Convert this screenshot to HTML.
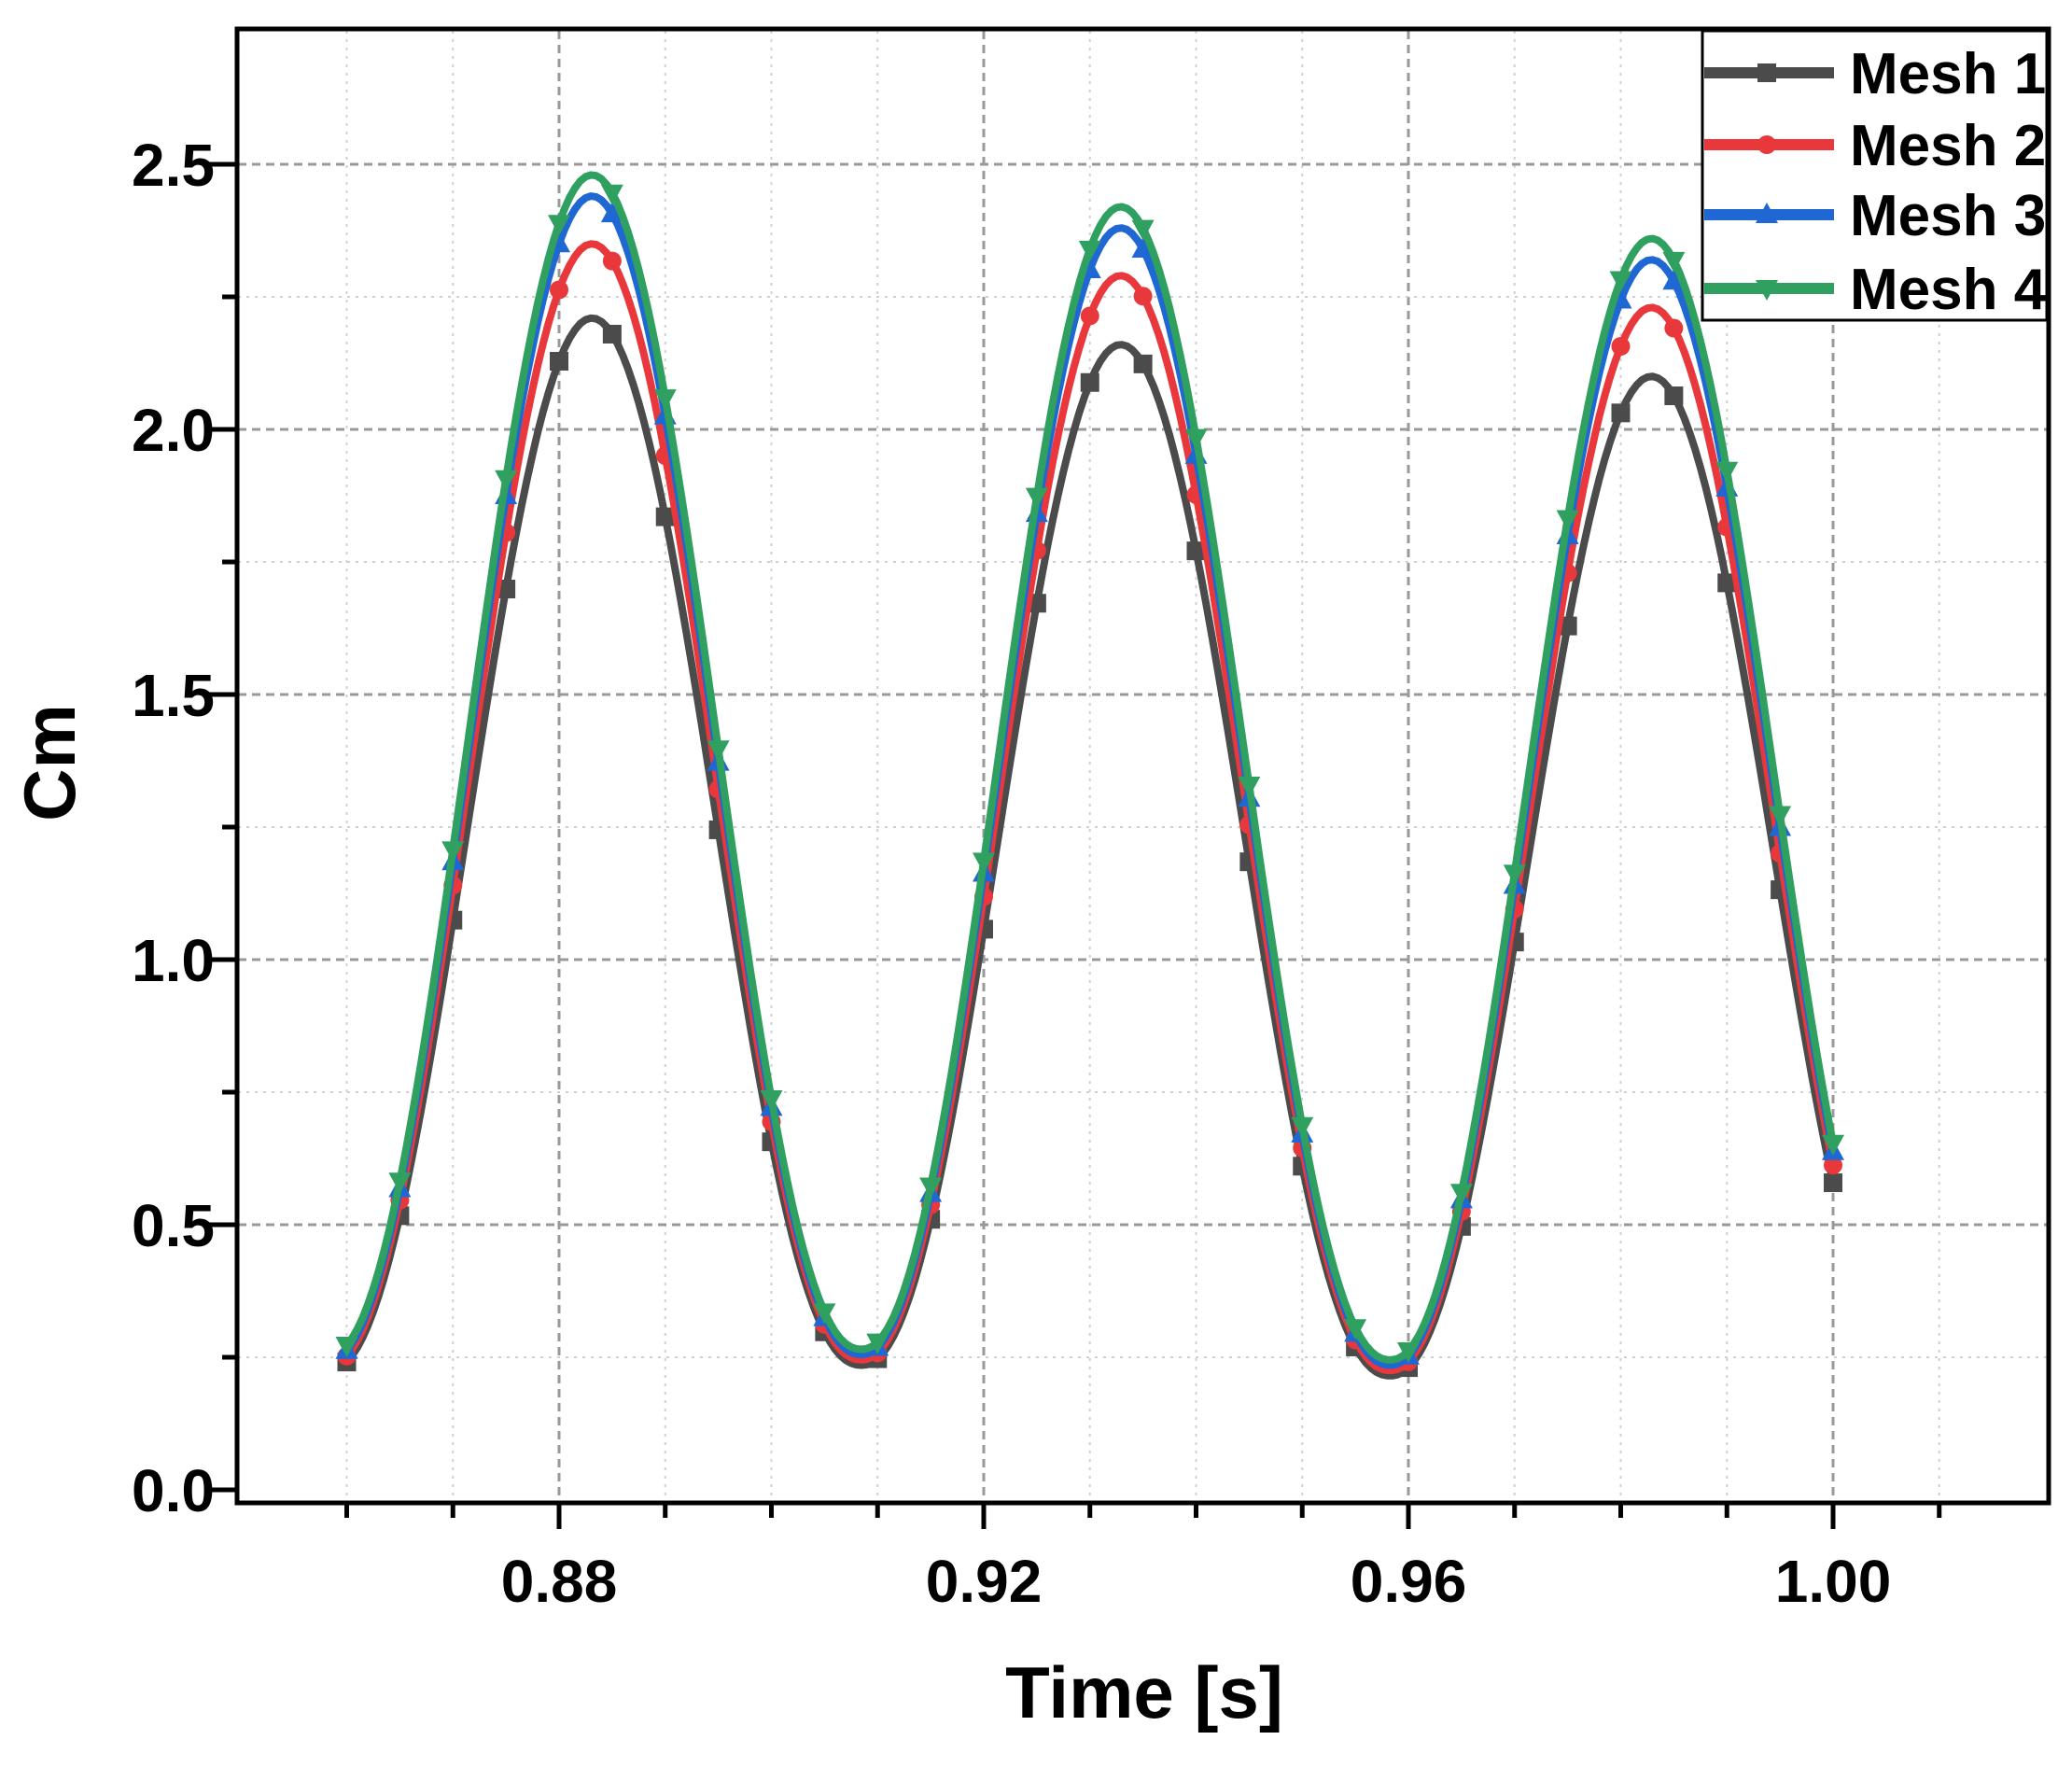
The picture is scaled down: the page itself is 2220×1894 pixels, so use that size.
<!DOCTYPE html>
<html><head><meta charset="utf-8"><style>
html,body{margin:0;padding:0;background:#fff;}
svg{display:block;}
text{font-family:"Liberation Sans",Arial,sans-serif;font-weight:bold;fill:#000;}
</style></head><body>
<svg id="s" width="2220" height="1894" viewBox="0 0 2220 1894" xmlns="http://www.w3.org/2000/svg">
<rect width="2220" height="1894" fill="#fff"/>
<g id="grid"></g>
<g id="series"></g>
<g id="axes"></g>
<g font-size="64" text-anchor="end">
<text x="230" y="1619">0.0</text>
<text x="230" y="1335">0.5</text>
<text x="230" y="1051">1.0</text>
<text x="230" y="767">1.5</text>
<text x="230" y="483">2.0</text>
<text x="230" y="199">2.5</text>
</g>
<g font-size="64" text-anchor="middle">
<text x="599" y="1716">0.88</text>
<text x="1054" y="1716">0.92</text>
<text x="1509" y="1716">0.96</text>
<text x="1964" y="1716">1.00</text>
</g>
<text x="1226" y="1840" font-size="78" text-anchor="middle">Time [s]</text>
<text transform="translate(80,817) rotate(-90)" font-size="78" text-anchor="middle">Cm</text>
<g id="legend"></g>
</svg>
<script>
var NS="http://www.w3.org/2000/svg";
function X(t){return 599+(t-0.88)*11375;}
function Y(v){return 1596-v*568;}
function el(p,tag,a){var e=document.createElementNS(NS,tag);for(var k in a)e.setAttribute(k,a[k]);p.appendChild(e);return e;}
var grid=document.getElementById('grid'),axes=document.getElementById('axes'),ser=document.getElementById('series'),leg=document.getElementById('legend');
for(var i=0;i<=15;i++){var t=0.86+i*0.01;var x=X(t);var major=(i%4==2);
 el(grid,'line',{x1:x,y1:33,x2:x,y2:1608,stroke:major?'#999':'#d0d0d0','stroke-width':major?3:2,'stroke-dasharray':major?'9,6':'3,6'});}
for(var j=1;j<=10;j++){var v=j*0.25;var y=Y(v);var major=(j%2==0);
 el(grid,'line',{x1:255,y1:y,x2:2193,y2:y,stroke:major?'#999':'#d0d0d0','stroke-width':major?3:2,'stroke-dasharray':major?'9,6':'3,6'});}
el(axes,'rect',{x:254,y:31,width:1941,height:1579,fill:'none',stroke:'#000','stroke-width':5});
for(var i=0;i<=15;i++){var t=0.86+i*0.01;var x=X(t);var major=(i%4==2);
 el(axes,'line',{x1:x,y1:1610,x2:x,y2:major?1638:1626,stroke:'#000','stroke-width':5});}
for(var j=0;j<=10;j++){var y=Y(j*0.25);var major=(j%2==0);
 el(axes,'line',{x1:major?224:238,y1:y,x2:254,y2:y,stroke:'#000','stroke-width':5});}
var peaks=[0.8831,0.9329,0.9829], mins=[0.8583,0.9085,0.9583,1.0085];
var meshes=[
 {c:'#4b4b4b',pk:[2.21,2.16,2.10],mn:[0.225,0.235,0.215,0.215],m:'sq'},
 {c:'#e8383b',pk:[2.35,2.29,2.23],mn:[0.235,0.245,0.225,0.225],m:'ci'},
 {c:'#1f67d2',pk:[2.44,2.38,2.32],mn:[0.245,0.255,0.235,0.235],m:'tu'},
 {c:'#2fa060',pk:[2.48,2.42,2.36],mn:[0.255,0.265,0.245,0.245],m:'td'}];
function val(m,t){
 for(var k=0;k<3;k++){
  if(t>=mins[k]&&t<=peaks[k]){var s=(t-mins[k])/(peaks[k]-mins[k]);var f=Math.pow((1-Math.cos(Math.PI*s))/2,1.08);return m.mn[k]+(m.pk[k]-m.mn[k])*f;}
  if(t>=peaks[k]&&t<=mins[k+1]){var s=(t-peaks[k])/(mins[k+1]-peaks[k]);var p=(k==2)?1.18:1.12;var f=Math.pow((1+Math.cos(Math.PI*s))/2,p);return m.mn[k+1]+(m.pk[k]-m.mn[k+1])*f;}
 }
 return m.mn[0];}
function marker(g,type,x,y,c){
 if(type=='sq')el(g,'rect',{x:x-10,y:y-10,width:20,height:20,fill:c});
 else if(type=='ci')el(g,'circle',{cx:x,cy:y,r:10,fill:c});
 else if(type=='tu')el(g,'polygon',{points:(x-12)+','+(y+9)+' '+(x+12)+','+(y+9)+' '+x+','+(y-13),fill:c});
 else el(g,'polygon',{points:(x-12)+','+(y-9)+' '+(x+12)+','+(y-9)+' '+x+','+(y+13),fill:c});}
meshes.forEach(function(m){
 var d='';for(var t=0.86;t<=1.00001;t+=0.0005){d+=(d?'L':'M')+X(t).toFixed(1)+','+Y(val(m,t)).toFixed(1);}
 el(ser,'path',{d:d,fill:'none',stroke:m.c,'stroke-width':8,'stroke-linejoin':'round'});
 for(var k=0;k<=28;k++){var t=0.86+k*0.005;marker(ser,m.m,X(t),Y(val(m,t)),m.c);}
});
el(leg,'rect',{x:1824,y:33,width:369,height:310,fill:'#fff',stroke:'#000','stroke-width':3});
var ly=[78,155,230,309],names=['Mesh 1','Mesh 2','Mesh 3','Mesh 4'];
meshes.forEach(function(m,i){
 el(leg,'line',{x1:1826,y1:ly[i],x2:1965,y2:ly[i],stroke:m.c,'stroke-width':12});
 marker(leg,m.m,1893,ly[i],m.c);
 var tx=el(leg,'text',{x:1982,y:ly[i]+22,'font-size':62});tx.textContent=names[i];
});
</script>
</body></html>
